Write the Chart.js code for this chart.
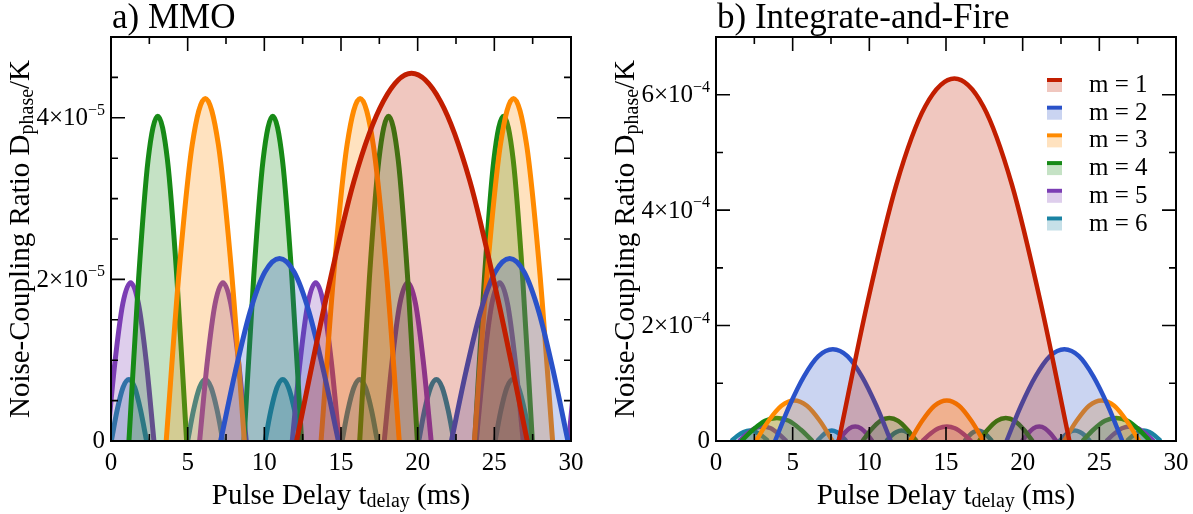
<!DOCTYPE html>
<html>
<head>
<meta charset="utf-8">
<script src="https://cdn.jsdelivr.net/npm/chart.js@4.4.1/dist/chart.umd.min.js"></script>
<style>
  body { margin: 0; background: #fff; }
  canvas { position: absolute; top: 0; }
</style>
</head>
<body>
<canvas id="mmo" width="600" height="514" style="left:0"></canvas>
<canvas id="iaf" width="593" height="514" style="left:600px"></canvas>
<script>
// x in ms. Panel a values are in units of 1e-5, panel b in units of 1e-4.
// Each series is a list of humps, each hump a list of [t, D] points.
const seriesLabels = ['m = 1', 'm = 2', 'm = 3', 'm = 4', 'm = 5', 'm = 6'];

const mmoM1 = [
  [[12.1,0],[14.0,1.74],[15.85,3.22],[17.75,4.2],[19.6,4.55],[21.5,4.2],[23.4,3.22],[25.25,1.74],[27.15,0]]
];
const mmoM2 = [
  [[7.15,0],[8.11,0.86],[9.07,1.6],[10.03,2.09],[10.99,2.26],[11.95,2.09],[12.91,1.6],[13.87,0.86],[14.83,0]],
  [[22.2,0],[23.15,0.86],[24.1,1.6],[25.05,2.09],[26.0,2.26],[26.95,2.09],[27.9,1.6],[28.85,0.86],[29.8,0]]
];
const mmoM3 = [
  [[3.6,0],[4.45,2.12],[5.3,3.67],[6.15,4.24],[7.0,3.67],[7.85,2.12],[8.7,0]],
  [[13.7,0],[14.55,2.12],[15.4,3.67],[16.25,4.24],[17.1,3.67],[17.95,2.12],[18.8,0]],
  [[23.7,0],[24.55,2.12],[25.4,3.67],[26.25,4.24],[27.1,3.67],[27.95,2.12],[28.8,0]]
];
const mmoM4 = [
  [[1.17,0],[1.8,2.01],[2.42,3.48],[3.05,4.02],[3.68,3.48],[4.3,2.01],[4.93,0]],
  [[8.67,0],[9.3,2.01],[9.92,3.48],[10.55,4.02],[11.18,3.48],[11.8,2.01],[12.43,0]],
  [[16.22,0],[16.85,2.01],[17.47,3.48],[18.1,4.02],[18.73,3.48],[19.35,2.01],[19.98,0]],
  [[23.72,0],[24.35,2.01],[24.97,3.48],[25.6,4.02],[26.23,3.48],[26.85,2.01],[27.48,0]]
];
const mmoM5 = [
  [[-0.25,0],[0.26,0.98],[0.77,1.7],[1.28,1.96],[1.79,1.7],[2.3,0.98],[2.8,0]],
  [[5.78,0],[6.28,0.98],[6.79,1.7],[7.3,1.96],[7.81,1.7],[8.32,0.98],[8.82,0]],
  [[11.82,0],[12.33,0.98],[12.84,1.7],[13.35,1.96],[13.86,1.7],[14.37,0.98],[14.88,0]],
  [[17.82,0],[18.33,0.98],[18.84,1.7],[19.35,1.96],[19.86,1.7],[20.37,0.98],[20.88,0]],
  [[23.82,0],[24.33,0.98],[24.84,1.7],[25.35,1.96],[25.86,1.7],[26.37,0.98],[26.88,0]],
  [[29.85,0],[30.36,0.98],[30.87,1.7]]
];
const mmoM6 = [
  [[0.02,0],[0.4,0.38],[0.78,0.66],[1.17,0.76],[1.55,0.66],[1.93,0.38],[2.32,0]],
  [[5.0,0],[5.38,0.38],[5.77,0.66],[6.15,0.76],[6.53,0.66],[6.92,0.38],[7.3,0]],
  [[10.05,0],[10.43,0.38],[10.82,0.66],[11.2,0.76],[11.58,0.66],[11.97,0.38],[12.35,0]],
  [[15.07,0],[15.45,0.38],[15.84,0.66],[16.22,0.76],[16.6,0.66],[16.99,0.38],[17.37,0]],
  [[20.07,0],[20.45,0.38],[20.84,0.66],[21.22,0.76],[21.6,0.66],[21.99,0.38],[22.37,0]],
  [[25.05,0],[25.43,0.38],[25.82,0.66],[26.2,0.76],[26.58,0.66],[26.97,0.38],[27.35,0]]
];

const iafM1 = [
  [[8.0,0],[9.88,2.4],[11.76,4.44],[13.65,5.8],[15.55,6.28],[17.43,5.8],[19.3,4.44],[21.17,2.4],[23.05,0]]
];
const iafM2 = [
  [[3.85,0],[4.79,0.61],[5.74,1.12],[6.68,1.47],[7.62,1.59],[8.57,1.47],[9.51,1.12],[10.46,0.61],[11.4,0]],
  [[18.95,0],[19.89,0.61],[20.84,1.12],[21.78,1.47],[22.72,1.59],[23.67,1.47],[24.61,1.12],[25.56,0.61],[26.5,0]]
];
const iafM3 = [
  [[2.6,0],[3.43,0.35],[4.27,0.61],[5.1,0.7],[5.93,0.61],[6.77,0.35],[7.6,0]],
  [[12.65,0],[13.45,0.35],[14.25,0.61],[15.05,0.7],[15.85,0.61],[16.65,0.35],[17.45,0]],
  [[22.7,0],[23.52,0.35],[24.33,0.61],[25.15,0.7],[25.97,0.61],[26.78,0.35],[27.6,0]]
];
const iafM4 = [
  [[1.65,0],[2.43,0.2],[3.2,0.35],[3.97,0.4],[4.75,0.35],[5.52,0.2],[6.3,0]],
  [[9.55,0],[10.13,0.2],[10.72,0.35],[11.3,0.4],[11.88,0.35],[12.47,0.2],[13.05,0]],
  [[17.15,0],[17.73,0.2],[18.32,0.35],[18.9,0.4],[19.48,0.35],[20.07,0.2],[20.65,0]],
  [[23.9,0],[24.63,0.2],[25.37,0.35],[26.1,0.4],[26.83,0.35],[27.57,0.2],[28.3,0]]
];
const iafM5 = [
  [[1.5,0],[2.02,0.125],[2.53,0.22],[3.05,0.25],[3.57,0.22],[4.08,0.125],[4.6,0]],
  [[7.95,0],[8.33,0.125],[8.7,0.22],[9.08,0.25],[9.45,0.22],[9.83,0.125],[10.2,0]],
  [[13.45,0],[13.98,0.125],[14.52,0.22],[15.05,0.25],[15.58,0.22],[16.12,0.125],[16.65,0]],
  [[19.95,0],[20.33,0.125],[20.7,0.22],[21.08,0.25],[21.45,0.22],[21.83,0.125],[22.2,0]],
  [[25.45,0],[25.97,0.125],[26.48,0.22],[27.0,0.25],[27.52,0.22],[28.03,0.125],[28.55,0]]
];
const iafM6 = [
  [[1.0,0],[1.4,0.09],[1.8,0.155],[2.2,0.18],[2.6,0.155],[3.0,0.09],[3.4,0]],
  [[6.6,0],[6.92,0.09],[7.23,0.155],[7.55,0.18],[7.87,0.155],[8.18,0.09],[8.5,0]],
  [[11.1,0],[11.43,0.09],[11.77,0.155],[12.1,0.18],[12.43,0.155],[12.77,0.09],[13.1,0]],
  [[16.2,0],[16.5,0.09],[16.8,0.155],[17.1,0.18],[17.4,0.155],[17.7,0.09],[18.0,0]],
  [[22.4,0],[22.73,0.09],[23.07,0.155],[23.4,0.18],[23.73,0.155],[24.07,0.09],[24.4,0]],
  [[26.8,0],[27.17,0.09],[27.53,0.155],[27.9,0.18],[28.27,0.155],[28.63,0.09],[29.0,0]]
];

const xTickLabels = [0, 5, 10, 15, 20, 25, 30];
const xMinorTicks = [2.5, 7.5, 12.5, 17.5, 22.5, 27.5];
const mmoYTicks = [0, 2, 4];
const mmoYMinor = [0.5, 1, 1.5, 2.5, 3, 3.5, 4.5];
const iafYTicks = [0, 2, 4, 6];
const iafYMinor = [1, 3, 5];

const lineColors = ['#c21e00', '#2a52c9', '#ff8a00', '#178a17', '#7b3db4', '#1a83a3'];
const fillColors = lineColors.map(c => c + '40');
const serif = "'Liberation Serif', 'Times New Roman', serif";

function toPoints(humps) {
  const pts = [];
  humps.forEach((h, i) => {
    if (i > 0) pts.push({ x: h[0][0], y: null });
    h.forEach(p => pts.push({ x: p[0], y: p[1] }));
  });
  return pts;
}

function runsWidth(ctx, runs) {
  let w = 0;
  runs.forEach(r => { ctx.font = r.s + 'px ' + serif; w += ctx.measureText(r.t).width; });
  return w;
}
function drawRuns(ctx, runs, x, y) {
  runs.forEach(r => {
    ctx.font = r.s + 'px ' + serif;
    ctx.fillText(r.t, x, y + (r.dy || 0));
    x += ctx.measureText(r.t).width;
  });
}

function makeDecor(cfg) {
  return {
    id: 'decor',
    afterDraw(chart) {
      const { ctx, chartArea: a } = chart;
      const xs = chart.scales.x, ys = chart.scales.y;
      ctx.save();
      ctx.strokeStyle = '#000';
      ctx.fillStyle = '#000';

      // inward ticks on all four sides
      ctx.lineWidth = 1.6;
      ctx.beginPath();
      const xt = (v, len) => {
        const px = xs.getPixelForValue(v);
        ctx.moveTo(px, a.bottom); ctx.lineTo(px, a.bottom - len);
        ctx.moveTo(px, a.top); ctx.lineTo(px, a.top + len);
      };
      const yt = (v, len) => {
        const py = ys.getPixelForValue(v);
        ctx.moveTo(a.left, py); ctx.lineTo(a.left + len, py);
        ctx.moveTo(a.right, py); ctx.lineTo(a.right - len, py);
      };
      xTickLabels.forEach(v => xt(v, 14));
      xMinorTicks.forEach(v => xt(v, 7));
      cfg.yTicks.forEach(v => yt(v, 14));
      cfg.yMinor.forEach(v => yt(v, 7));
      ctx.stroke();

      ctx.lineWidth = 2;
      ctx.strokeRect(a.left, a.top, a.right - a.left, a.bottom - a.top);

      // x tick labels
      ctx.font = '25px ' + serif;
      ctx.textAlign = 'center';
      ctx.textBaseline = 'alphabetic';
      xTickLabels.forEach(v => ctx.fillText(String(v), xs.getPixelForValue(v), a.bottom + 29));

      // y tick labels with power of ten
      ctx.textAlign = 'left';
      cfg.yTicks.forEach(v => {
        const py = ys.getPixelForValue(v);
        const right = a.left - 6;
        if (v === 0) {
          ctx.font = '25px ' + serif;
          const w = ctx.measureText('0').width;
          ctx.textBaseline = 'middle';
          ctx.fillText('0', right - w, py);
          return;
        }
        const main = v + '\u00d710';
        ctx.font = '16px ' + serif;
        const supW = ctx.measureText(cfg.yExp).width;
        ctx.textBaseline = 'alphabetic';
        ctx.fillText(cfg.yExp, right - supW, py - 3);
        ctx.font = '25px ' + serif;
        const mainW = ctx.measureText(main).width;
        ctx.textBaseline = 'middle';
        ctx.fillText(main, right - supW - mainW, py + 1);
      });
      ctx.textBaseline = 'alphabetic';

      // x title
      const xRuns = [{ t: 'Pulse Delay t', s: 29 }, { t: 'delay', s: 20, dy: 3 }, { t: ' (ms)', s: 29 }];
      drawRuns(ctx, xRuns, (a.left + a.right) / 2 - runsWidth(ctx, xRuns) / 2, a.bottom + 63);

      // y title
      const yRuns = [{ t: 'Noise-Coupling Ratio D', s: 29 }, { t: 'phase', s: 20, dy: 4 }, { t: '/K', s: 29 }];
      ctx.save();
      ctx.translate(a.left - 82, (a.top + a.bottom) / 2);
      ctx.rotate(-Math.PI / 2);
      drawRuns(ctx, yRuns, -runsWidth(ctx, yRuns) / 2, 0);
      ctx.restore();

      // panel title
      ctx.font = '35px ' + serif;
      ctx.fillText(cfg.title, a.left + 1, 28);

      // legend
      if (cfg.legend) {
        seriesLabels.forEach((lab, i) => {
          const base = a.top + 55 + i * 27.7;
          const sx = a.right - 129;
          ctx.fillStyle = fillColors[i];
          ctx.fillRect(sx, base - 10, 15, 10);
          ctx.fillStyle = lineColors[i];
          ctx.fillRect(sx, base - 14, 15, 4);
          ctx.fillStyle = '#000';
          ctx.font = '25px ' + serif;
          ctx.fillText(lab, a.right - 87, base);
        });
      }
      ctx.restore();
    }
  };
}

function makeChart(id, series, yMax, lineW, padding, cfg) {
  const datasets = series.map((humps, i) => ({
    label: seriesLabels[i],
    data: toPoints(humps),
    borderColor: lineColors[i],
    backgroundColor: fillColors[i],
    borderWidth: lineW,
    fill: 'origin',
    pointRadius: 0,
    cubicInterpolationMode: 'monotone',
    spanGaps: false,
    clip: 0
  }));
  return new Chart(document.getElementById(id), {
    type: 'line',
    data: { datasets },
    options: {
      responsive: false,
      animation: false,
      layout: { padding },
      scales: {
        x: { type: 'linear', min: 0, max: 30, display: false },
        y: { type: 'linear', min: 0, max: yMax, display: false }
      },
      plugins: { legend: { display: false }, tooltip: { enabled: false } }
    },
    plugins: [makeDecor(cfg)]
  });
}

makeChart('mmo', [mmoM1, mmoM2, mmoM3, mmoM4, mmoM5, mmoM6], 5, 5,
  { left: 111, right: 29, top: 37, bottom: 73 },
  { title: 'a) MMO', yTicks: mmoYTicks, yMinor: mmoYMinor, yExp: '\u22125', legend: false });

makeChart('iaf', [iafM1, iafM2, iafM3, iafM4, iafM5, iafM6], 7, 4.5,
  { left: 116, right: 17, top: 37, bottom: 73 },
  { title: 'b) Integrate-and-Fire', yTicks: iafYTicks, yMinor: iafYMinor, yExp: '\u22124', legend: true });
</script>
</body>
</html>
